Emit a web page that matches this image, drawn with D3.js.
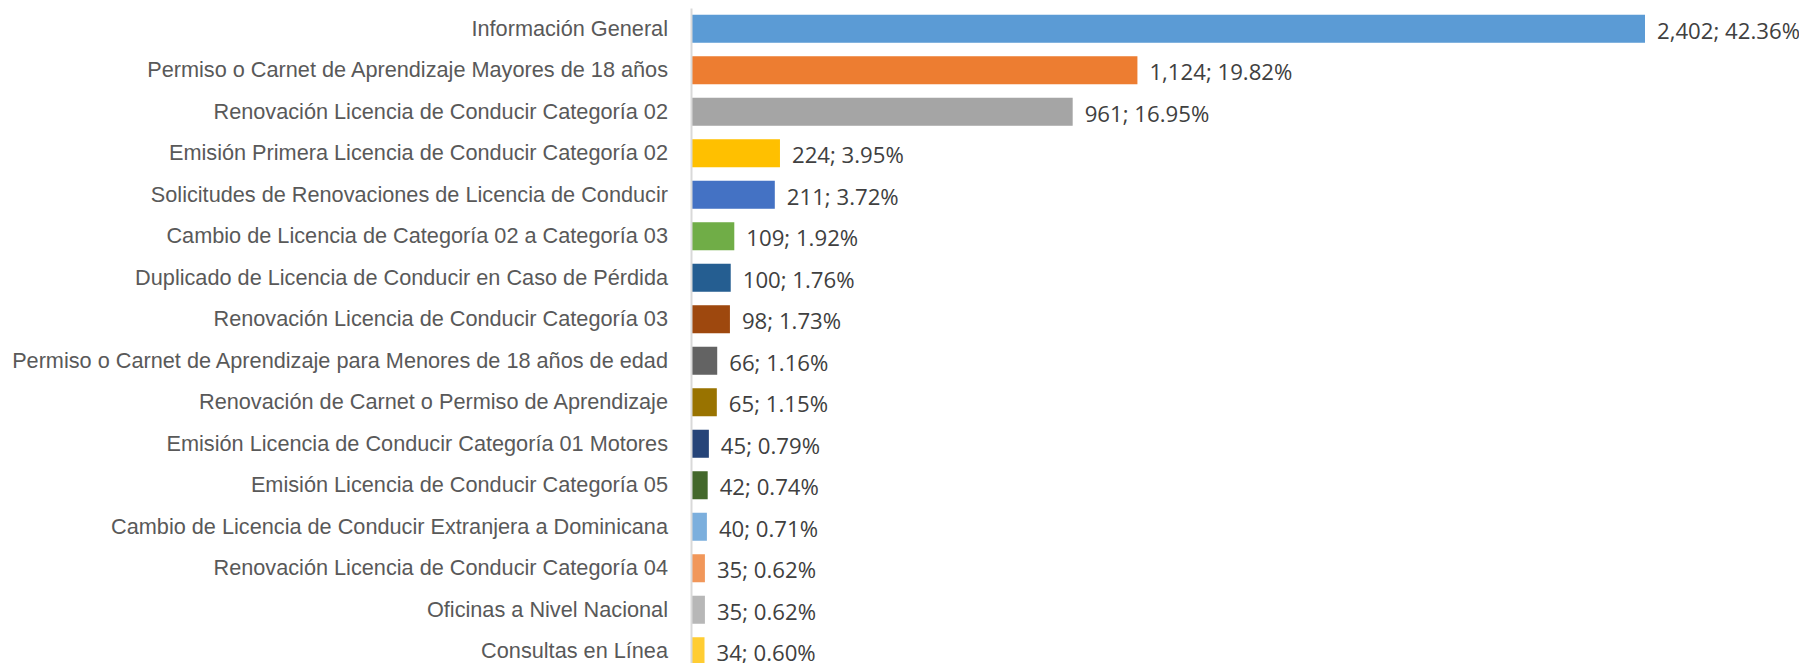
<!DOCTYPE html>
<html>
<head>
<meta charset="utf-8">
<script src="https://cdn.jsdelivr.net/npm/d3@7"></script>
<style>
    html, body { margin: 0; padding: 0; background: #fff; }
    #chart { width: 1799px; height: 663px; }
</style>
</head>
<body>
<div id="chart"></div>
<script>
const categories = [
    'Información General',
    'Permiso o Carnet de Aprendizaje Mayores de 18 años',
    'Renovación Licencia de Conducir Categoría 02',
    'Emisión Primera Licencia de Conducir Categoría 02',
    'Solicitudes de Renovaciones de Licencia de Conducir',
    'Cambio de Licencia de Categoría 02 a Categoría 03',
    'Duplicado de Licencia de Conducir en Caso de Pérdida',
    'Renovación Licencia de Conducir Categoría 03',
    'Permiso o Carnet de Aprendizaje para Menores de 18 años de edad',
    'Renovación de Carnet o Permiso de Aprendizaje',
    'Emisión Licencia de Conducir Categoría 01 Motores',
    'Emisión Licencia de Conducir Categoría 05',
    'Cambio de Licencia de Conducir Extranjera a Dominicana',
    'Renovación Licencia de Conducir Categoría 04',
    'Oficinas a Nivel Nacional',
    'Consultas en Línea'
];
const values = [2402, 1124, 961, 224, 211, 109, 100, 98, 66, 65, 45, 42, 40, 35, 35, 34];
const percents = ['42.36%', '19.82%', '16.95%', '3.95%', '3.72%', '1.92%', '1.76%', '1.73%',
    '1.16%', '1.15%', '0.79%', '0.74%', '0.71%', '0.62%', '0.62%', '0.60%'];
const colors = ['#5B9BD5', '#ED7D31', '#A5A5A5', '#FFC000', '#4472C4', '#70AD47', '#255E91', '#9E480E',
    '#636363', '#997300', '#264478', '#43682B', '#7CAFDD', '#F1975A', '#B7B7B7', '#FFCD33'];

const width = 1799, height = 663;
const margin = { left: 691, right: 154, top: 8 };

const svg = d3.select('#chart').append('svg')
    .attr('width', width)
    .attr('height', height)
    .style('font-family', '"Open Sans", sans-serif');

const x = d3.scaleLinear()
    .domain([0, d3.max(values)])
    .range([margin.left, width - margin.right]);

const y = d3.scaleBand()
    .domain(categories)
    .range([margin.top, margin.top + categories.length * 41.5])
    .paddingInner(0.325)
    .paddingOuter(0.1625);

// bars
svg.selectAll('.bar')
    .data(values)
    .join('rect')
    .attr('class', 'bar')
    .attr('x', x(0))
    .attr('y', (d, i) => y(categories[i]))
    .attr('width', d => x(d) - x(0))
    .attr('height', y.bandwidth())
    .attr('fill', (d, i) => colors[i]);

// category axis
const yAxis = svg.append('g')
    .attr('transform', `translate(${x(0)},0)`)
    .call(d3.axisLeft(y).tickSize(0).tickPadding(23));

yAxis.select('.domain').attr('stroke', '#d9d9d9').attr('stroke-width', 2);
yAxis.selectAll('text')
    .attr('fill', '#595959')
    .style('font-size', '18px');

// fit label size so the longest label spans like the reference
const longest = d3.max(yAxis.selectAll('text').nodes(), n => n.getComputedTextLength());
const fontSize = 18 * 656 / longest;
yAxis.selectAll('text').style('font-size', fontSize + 'px');

// value labels
svg.selectAll('.val')
    .data(values)
    .join('text')
    .attr('class', 'val')
    .attr('x', d => x(d) + 12)
    .attr('y', (d, i) => y(categories[i]) + y.bandwidth() / 2)
    .attr('dy', '0.45em')
    .attr('fill', '#404040')
    .style('font-size', (fontSize + 0.5) + 'px')
    .text((d, i) => d3.format(',')(d) + '; ' + percents[i]);
</script>
</body>
</html>
